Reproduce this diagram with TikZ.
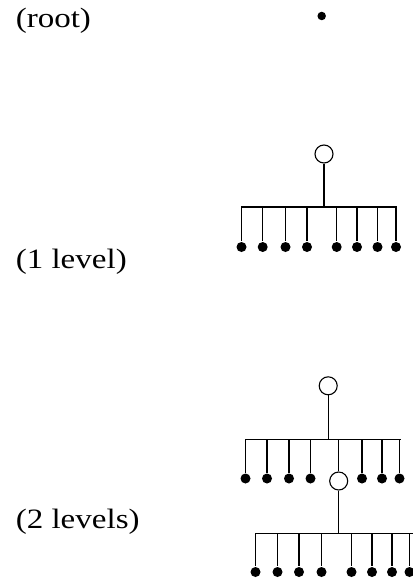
\documentclass[tikz,border=0pt]{standalone}
\usepackage{fontspec}
\setmainfont{Liberation Serif}
\begin{document}
\begin{tikzpicture}[x=1pt,y=-1pt,
  line width=1.3pt,
  leaf/.style={circle,fill=black,inner sep=0pt,minimum size=10pt},
  rootdot/.style={circle,fill=black,inner sep=0pt,minimum size=8.5pt},
  hub/.style={circle,draw=black,fill=white,inner sep=0pt,minimum size=18pt,line width=1.1pt},
  lbl/.style={anchor=base west,inner sep=0pt,font=\fontsize{28}{32}\selectfont,xscale=1.18,transform shape}]
\useasboundingbox (0,0) rectangle (412,583);

% labels
\node[lbl] (troot) at (15,28) {(root)};
\node[lbl] (tone) at (15,268) {(1 level)};
\node[lbl] (ttwo) at (15,528) {(2 levels)};

% the root alone
\node[rootdot] (r0) at (321.7,16) {};

% one level: a hub with eight leaves
\node[hub] (a) at (324,154) {};
\coordinate (aL) at (241,207);
\coordinate (aR) at (397,207);
\foreach \x [count=\i] in {241.5,262.7,285.5,307,336.7,357,377.5,396}
  \node[leaf] (a\i) at (\x,247) {};
\draw (aL) -- (aR);
\draw (a) -- (a |- aL);
\foreach \i in {1,...,8}
  \draw (a\i |- aL) -- (a\i);

% two levels: the fifth leaf of the first hub is itself a hub
\node[hub] (b) at (328.2,385.8) {};
\coordinate (bL) at (245,439.5);
\coordinate (bR) at (401,439.5);
\foreach \x [count=\i] in {245.5,267,289,310.5}
  \node[leaf] (b\i) at (\x,478.5) {};
\node[hub] (b5) at (338.7,481) {};
\foreach \x [count=\i from 6] in {362,382,399.5}
  \node[leaf] (b\i) at (\x,478.5) {};
\draw (bL) -- (bR);
\draw (b) -- (b |- bL);
\foreach \i in {1,...,8}
  \draw (b\i |- bL) -- (b\i);

\coordinate (cL) at (256,533.3);
\coordinate (cR) at (414,533.3);
\foreach \x [count=\i] in {255.5,277.5,299,321.5,351.5,372,392,409.5}
  \node[leaf] (c\i) at (\x,572) {};
\draw (cL) -- (cR);
\draw (b5) -- (b5 |- cL);
\foreach \i in {1,...,8}
  \draw (c\i |- cL) -- (c\i);
\end{tikzpicture}
\end{document}
